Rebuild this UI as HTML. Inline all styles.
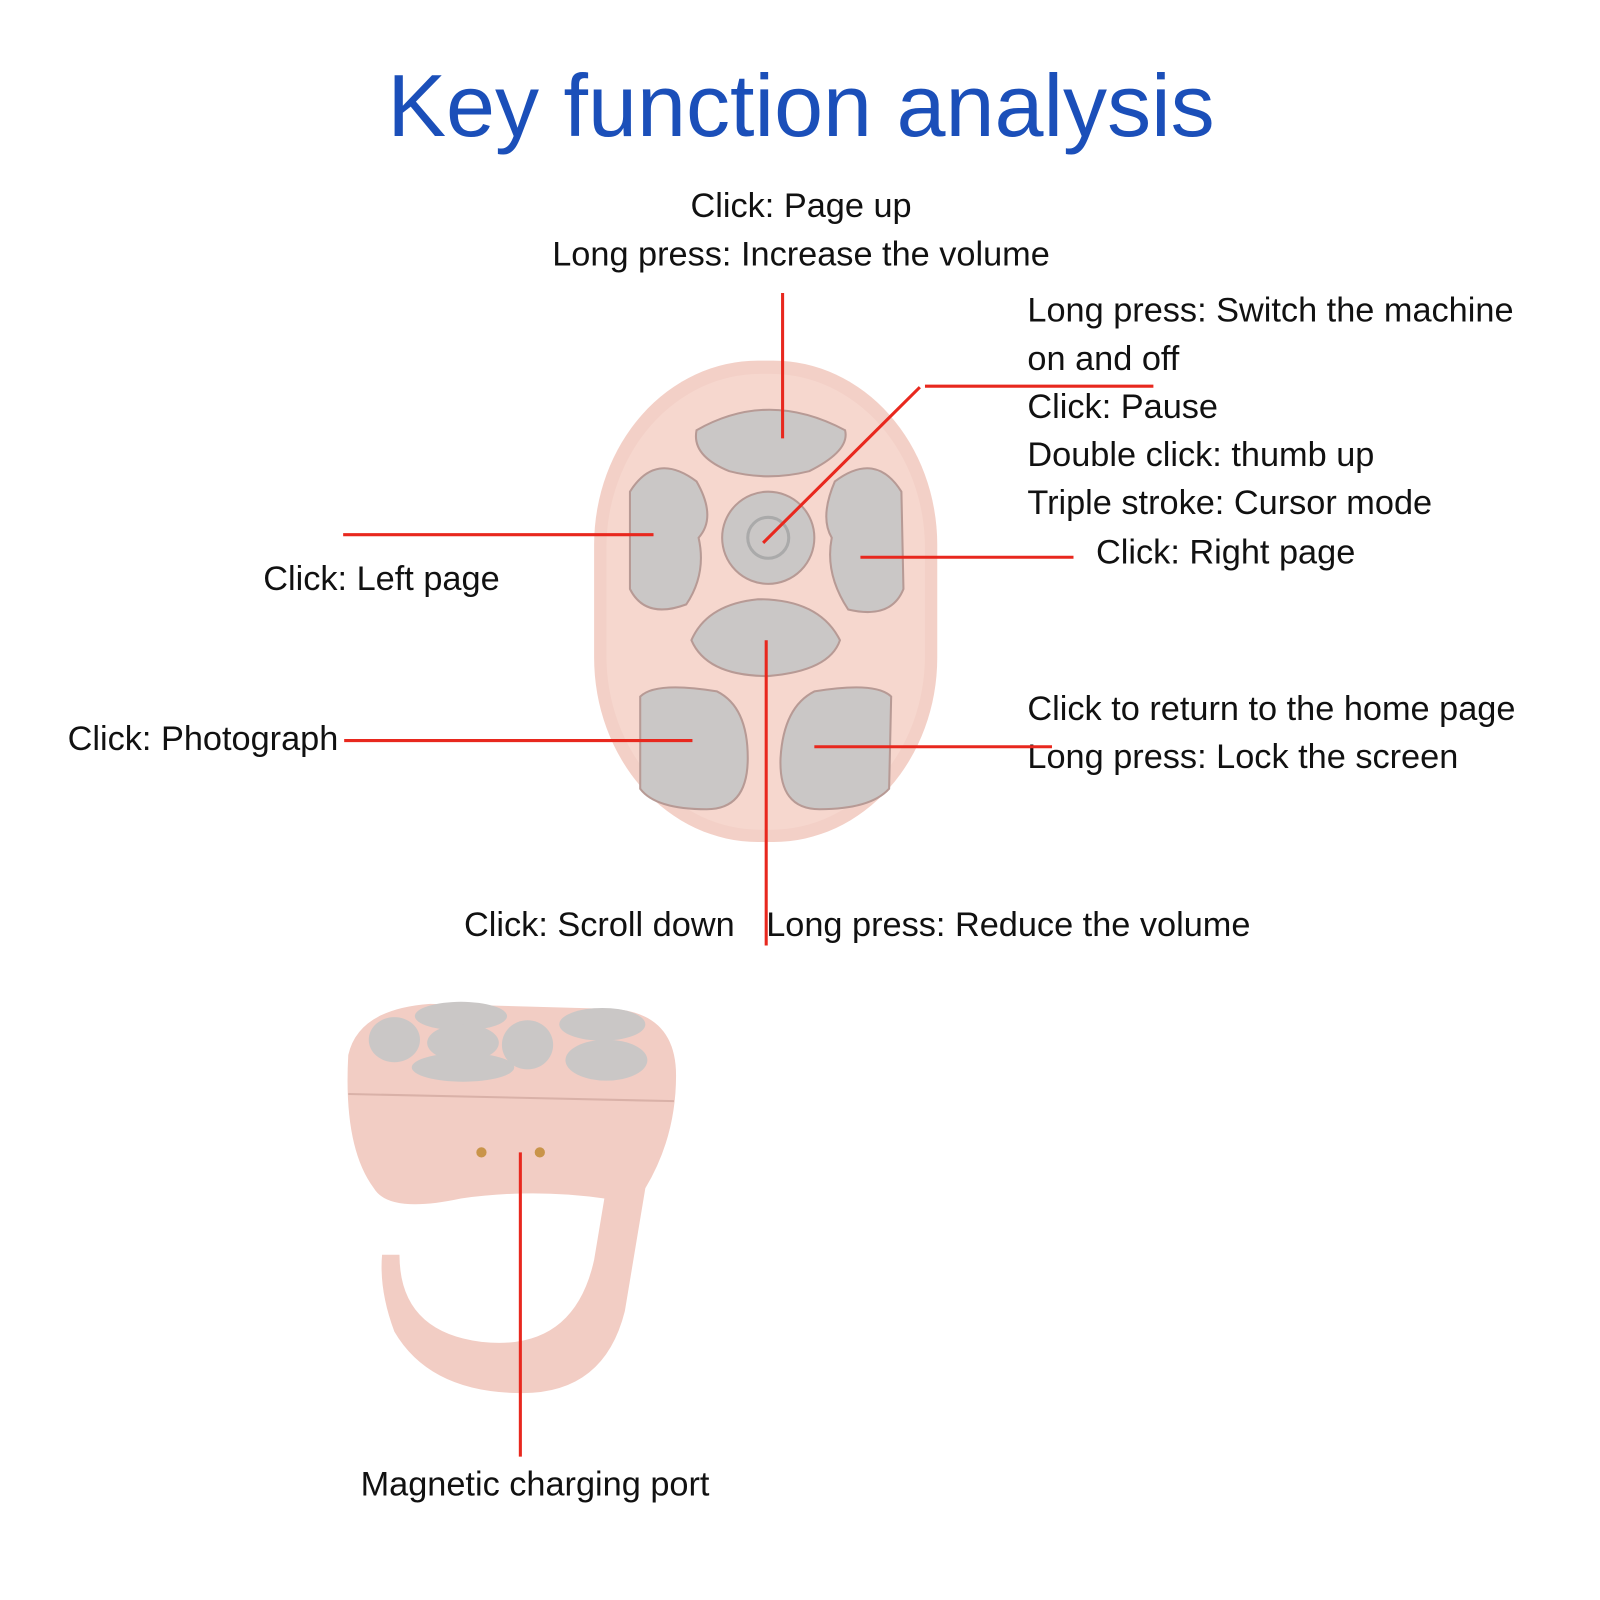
<!DOCTYPE html>
<html><head><meta charset="utf-8"><style>
html,body{margin:0;padding:0;background:#fff}
svg{display:block}
text{font-family:"Liberation Sans",sans-serif;fill:#111}
</style></head><body>
<svg width="1600" height="1600" viewBox="0 0 1562 1562" xmlns="http://www.w3.org/2000/svg">
<text x="782" y="133" text-anchor="middle" style="font-size:86px;fill:#1b4fb9">Key function analysis</text>
<g style="font-size:33.5px">
<text x="782" y="212" text-anchor="middle">Click: Page up</text>
<text x="782" y="259" text-anchor="middle">Long press: Increase the volume</text>
<text x="1003" y="314">Long press: Switch the machine</text>
<text x="1003" y="361">on and off</text>
<text x="1003" y="408">Click: Pause</text>
<text x="1003" y="455">Double click: thumb up</text>
<text x="1003" y="502">Triple stroke: Cursor mode</text>
<text x="1070" y="550">Click: Right page</text>
<text x="257" y="576">Click: Left page</text>
<text x="66" y="732">Click: Photograph</text>
<text x="1003" y="703">Click to return to the home page</text>
<text x="1003" y="750">Long press: Lock the screen</text>
<text x="453" y="914">Click: Scroll down</text>
<text x="748" y="914">Long press: Reduce the volume</text>
<text x="352" y="1460">Magnetic charging port</text>
</g>
<!-- remote -->
<rect x="580" y="352" width="335" height="470" rx="160" ry="180" fill="#f3d0c7"/>
<rect x="592" y="365" width="311" height="445" rx="150" ry="170" fill="#f6d7ce"/>
<g fill="#cac7c6" stroke="#b79a95" stroke-width="2">
<path d="M680 420 Q750 380 825 420 Q830 440 790 460 Q750 470 712 460 Q675 445 680 420Z"/>
<path d="M615 480 Q640 440 680 470 Q700 505 682 525 Q690 560 670 590 Q630 605 615 575Z"/>
<path d="M880 480 Q855 440 815 470 Q800 505 812 525 Q805 560 828 595 Q870 605 882 575Z"/>
<path d="M675 625 Q690 590 740 585 Q800 585 820 625 Q810 655 750 660 Q690 660 675 625Z"/>
<path d="M625 680 Q640 665 700 675 Q730 690 730 740 Q730 790 690 790 Q640 790 625 770Z"/>
<path d="M870 680 Q855 665 795 675 Q765 690 762 740 Q760 790 800 790 Q850 790 868 770Z"/>
<circle cx="750" cy="525" r="45"/>
</g>
<circle cx="750" cy="525" r="20" fill="none" stroke="#aaa" stroke-width="3"/>
<!-- ring view -->
<path d="M340 1030 Q350 985 420 980 L600 985 Q660 990 660 1050 Q660 1110 630 1160 L610 1280 Q590 1360 510 1360 Q420 1360 385 1300 Q370 1260 373 1225 L390 1225 Q390 1300 470 1310 Q560 1320 580 1230 L590 1170 Q520 1160 450 1170 Q380 1185 365 1160 Q335 1120 340 1030Z" fill="#f2cdc4"/>
<line x1="340" y1="1068" x2="658" y2="1075" stroke="#d9b1a8" stroke-width="2"/>
<g fill="#cac7c6">
<ellipse cx="450" cy="992" rx="45" ry="14"/>
<ellipse cx="385" cy="1015" rx="25" ry="22"/>
<ellipse cx="452" cy="1018" rx="35" ry="18"/>
<ellipse cx="452" cy="1042" rx="50" ry="14"/>
<ellipse cx="515" cy="1020" rx="25" ry="24"/>
<ellipse cx="588" cy="1000" rx="42" ry="16"/>
<ellipse cx="592" cy="1035" rx="40" ry="20"/>
</g>
<circle cx="470" cy="1125" r="5" fill="#c9944a"/><circle cx="527" cy="1125" r="5" fill="#c9944a"/>
<!-- red lines -->
<g stroke="#e8281e" stroke-width="3" fill="none">
<line x1="764" y1="286" x2="764" y2="428"/>
<line x1="903" y1="377" x2="1126" y2="377"/>
<line x1="898" y1="378" x2="745" y2="530"/>
<line x1="335" y1="522" x2="638" y2="522"/>
<line x1="840" y1="544" x2="1048" y2="544"/>
<line x1="336" y1="723" x2="676" y2="723"/>
<line x1="795" y1="729" x2="1027" y2="729"/>
<line x1="748" y1="625" x2="748" y2="923"/>
<line x1="508" y1="1125" x2="508" y2="1422"/>
</g>
</svg>
</body></html>
